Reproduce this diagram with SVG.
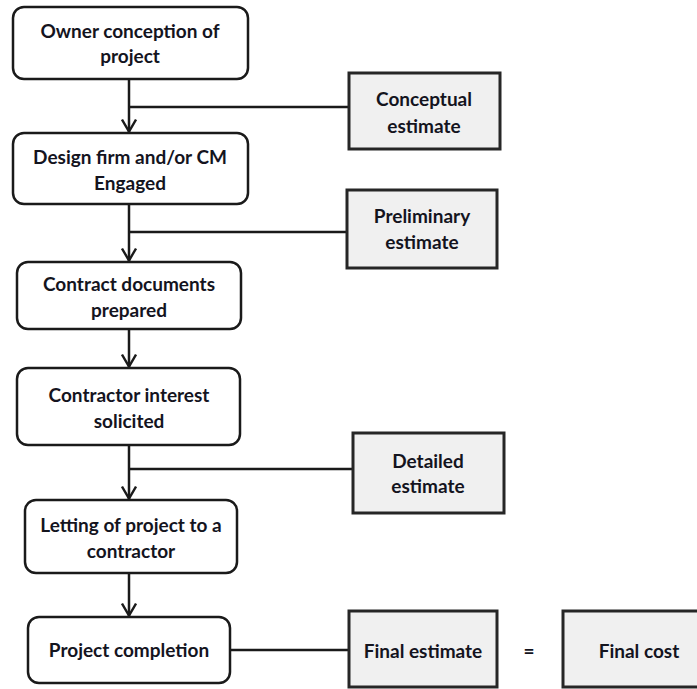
<svg xmlns="http://www.w3.org/2000/svg" width="697" height="689" viewBox="0 0 697 689">
<style>
.n{fill:#fff;stroke:#1a1a1a;stroke-width:2.5}
.e{fill:#f0f0f0;stroke:#262626;stroke-width:3}
.t{font-family:Lato,"Open Sans","Liberation Sans",sans-serif;font-weight:bold;font-size:19px;fill:#14141e;text-anchor:middle}
.c{fill:none;stroke:#1a1a1a;stroke-width:2.5}
</style>
<defs>
<marker id="a" viewBox="0 0 16 16" markerWidth="16" markerHeight="16" refX="14.5" refY="8" orient="auto" markerUnits="userSpaceOnUse">
<polyline points="2,1 14,8 2,15" fill="none" stroke="#1a1a1a" stroke-width="2.4"/>
</marker>
</defs>
<rect width="697" height="689" fill="#fff"/>
<g id="connectors">
<line class="c" x1="129" y1="79" x2="129" y2="132" marker-end="url(#a)"/>
<line class="c" x1="129" y1="107" x2="349" y2="107"/>
<line class="c" x1="129" y1="205" x2="129" y2="261" marker-end="url(#a)"/>
<line class="c" x1="129" y1="232" x2="347" y2="232"/>
<line class="c" x1="129" y1="329" x2="129" y2="367" marker-end="url(#a)"/>
<line class="c" x1="129" y1="445" x2="129" y2="499" marker-end="url(#a)"/>
<line class="c" x1="129" y1="469" x2="353" y2="469"/>
<line class="c" x1="129" y1="573" x2="129" y2="616" marker-end="url(#a)"/>
<line class="c" x1="230" y1="650" x2="349" y2="650"/>
</g>
<g id="n1"><rect class="n" x="13" y="7" width="235" height="72" rx="11"/><text class="t" x="130" y="38">Owner conception of</text><text class="t" x="130" y="63">project</text></g>
<g id="n2"><rect class="n" x="13" y="133" width="235" height="71" rx="11"/><text class="t" x="130" y="164">Design firm and/or CM</text><text class="t" x="130" y="190">Engaged</text></g>
<g id="n3"><rect class="n" x="17" y="262" width="224" height="67" rx="11"/><text class="t" x="129" y="291">Contract documents</text><text class="t" x="129" y="317">prepared</text></g>
<g id="n4"><rect class="n" x="17" y="368" width="223" height="77" rx="11"/><text class="t" x="129" y="402">Contractor interest</text><text class="t" x="129" y="428">solicited</text></g>
<g id="n5"><rect class="n" x="25" y="500" width="212" height="73" rx="11"/><text class="t" x="131" y="532">Letting of project to a</text><text class="t" x="131" y="558">contractor</text></g>
<g id="n6"><rect class="n" x="28" y="617" width="202" height="66" rx="11"/><text class="t" x="129" y="657">Project completion</text></g>
<g id="e1"><rect class="e" x="349" y="73" width="151" height="76"/><text class="t" x="424" y="106">Conceptual</text><text class="t" x="424" y="133">estimate</text></g>
<g id="e2"><rect class="e" x="347" y="190" width="150" height="78"/><text class="t" x="422" y="223">Preliminary</text><text class="t" x="422" y="249">estimate</text></g>
<g id="e3"><rect class="e" x="353" y="433" width="151" height="80"/><text class="t" x="428" y="468">Detailed</text><text class="t" x="428" y="493">estimate</text></g>
<g id="e4"><rect class="e" x="349" y="611" width="148" height="76"/><text class="t" x="423" y="658">Final estimate</text></g>
<text class="t" x="529" y="658">=</text>
<g id="e5"><rect class="e" x="563" y="611" width="152" height="76"/><text class="t" x="639" y="658">Final cost</text></g>
</svg>
